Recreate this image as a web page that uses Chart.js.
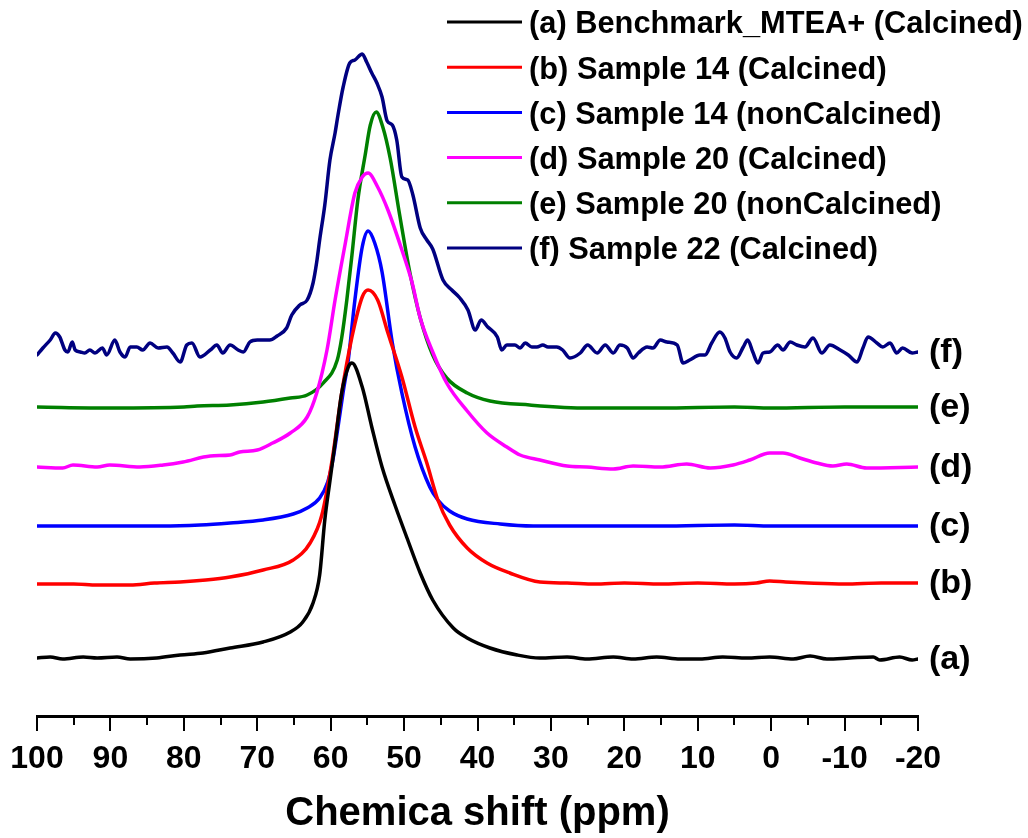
<!DOCTYPE html>
<html>
<head>
<meta charset="utf-8">
<script src="https://cdn.jsdelivr.net/npm/chart.js@4.4.1/dist/chart.umd.min.js"></script>
<style>
    html, body { margin: 0; padding: 0; background: #fff; }
    #wrap { width: 1028px; height: 838px; }
</style>
</head>
<body>
<div id="wrap"><canvas id="nmrChart" width="1028" height="838"></canvas></div>
<script>
// chemical shift (ppm) and offset intensity (a.u.) for each trace
const shiftA = [100, 98.2, 96.5, 93.7, 91.8, 89.1, 87.3, 83.7, 80.5, 77.4,
    73.7, 69.2, 65.5, 63.8, 62.4, 61.5, 60.8, 60.1, 59.4, 58.5,
    57.6, 57.1, 55.7, 54.4, 53.0, 51.2, 49.6, 47.8, 46.1, 43.3,
    41.4, 38.3, 34.6, 31.5, 27.8, 25.1, 21.5, 18.8, 15.6, 12.4,
    9.7, 6.6, 3.3, 0.2, -3.0, -5.3, -7.6, -10.7, -13.9, -14.8,
    -17.5, -19.2, -20];
const intA = [5.8, 5.9, 5.7, 5.9, 5.8, 5.9, 5.7, 5.8, 6.1, 6.3,
    6.8, 7.4, 8.4, 9.4, 11.3, 14.1, 19.6, 23.5, 27.3, 32.3,
    34.9, 35.3, 32.9, 28.9, 24.9, 21.0, 17.8, 14.3, 11.6, 8.8,
    7.8, 6.8, 6.1, 5.8, 5.9, 5.7, 5.9, 5.7, 5.9, 5.7,
    5.7, 5.9, 5.8, 5.9, 5.7, 6.0, 5.7, 5.8, 5.9, 5.6,
    5.9, 5.6, 5.7];

const shiftB = [100, 95, 91.8, 87.3, 84, 80.5, 77, 73.7, 69.2, 65.1,
    62.8, 61.2, 59.8, 58.5, 57.1, 55.7, 54.9, 53.6, 52.2, 50.3,
    48.5, 46.9, 45.4, 43.8, 41.4, 38.7, 35.6, 31.5, 27.8, 24,
    20, 15, 10, 5, 2, 0.2, -2, -5, -10, -15,
    -20];
const intB = [13.2, 13.2, 13.1, 13.1, 13.3, 13.4, 13.6, 13.9, 14.6, 15.6,
    17.3, 20.1, 25.6, 32.3, 37.9, 41.9, 42.6, 41.6, 38.3, 33.9,
    28.9, 25.3, 21.6, 19.1, 16.8, 15.3, 14.3, 13.4, 13.3, 13.2,
    13.3, 13.2, 13.3, 13.2, 13.3, 13.5, 13.4, 13.3, 13.2, 13.3,
    13.3];

const shiftC = [100, 90, 83, 77.8, 73.7, 69.2, 65.1, 63.2, 61.5, 60.4,
    59.7, 59.0, 58.3, 57.6, 56.7, 55.7, 54.9, 54.0, 53.0, 51.6,
    50.3, 48.5, 46.5, 45.4, 43.8, 41.4, 36.9, 32.4, 25, 15,
    5, 0, -10, -20];
const intC = [19.0, 19.0, 19.0, 19.1, 19.3, 19.6, 20.2, 20.8, 21.8, 23.4,
    25.6, 28.9, 32.4, 35.6, 41.6, 46.9, 48.5, 47.3, 44.4, 37.3,
    32.3, 26.9, 22.9, 21.6, 20.5, 19.7, 19.2, 19.0, 19.0, 19.0,
    19.1, 19.0, 19.0, 19.0];

const shiftD = [100, 96.5, 95.1, 91.8, 90.1, 86.0, 82.8, 80.1, 76.4, 73.7,
    72.4, 70.0, 67.9, 65.5, 63.2, 61.9, 60.5, 59.4, 58.0, 56.7,
    55.7, 54.9, 53.6, 52.2, 50.3, 48.9, 47.8, 46.1, 44.2, 41.4,
    38.7, 36.0, 34.2, 31.5, 27.8, 25.1, 21.5, 18.8, 15.1, 11.5,
    8.3, 5.2, 2.9, 0.2, -1.6, -3.9, -6.2, -8.4, -10.3, -13.0,
    -20];
const intD = [24.9, 24.8, 25.1, 24.9, 25.1, 24.9, 25.1, 25.4, 26.0, 26.1,
    26.4, 26.6, 27.3, 28.3, 29.9, 32.3, 36.6, 41.6, 47.3, 52.3,
    53.9, 54.3, 52.9, 50.6, 46.6, 43.3, 39.8, 36.4, 33.3, 30.5,
    28.3, 26.9, 26.1, 25.6, 25.0, 24.9, 24.7, 25.0, 24.9, 25.2,
    24.8, 25.1, 25.6, 26.3, 26.3, 25.8, 25.3, 25.0, 25.2, 24.8,
    24.9];

const shiftE = [100, 90, 80, 78.2, 73.7, 69.2, 65.5, 63.2, 61.0, 59.1,
    58.5, 57.8, 57.1, 56.3, 55.3, 54.6, 53.8, 52.9, 51.9, 50.6,
    49.2, 47.8, 46.1, 44.2, 41.4, 38.3, 32.9, 25, 15, 5,
    0, -10, -20];
const intE = [30.9, 30.8, 30.9, 31.0, 31.1, 31.4, 31.8, 32.1, 33.3, 35.6,
    37.8, 41.6, 46.1, 51.6, 56.1, 59.1, 60.4, 58.9, 55.8, 50.1,
    44.3, 39.8, 36.1, 33.8, 32.3, 31.5, 31.1, 30.8, 30.8, 30.9,
    30.8, 30.9, 30.9];

const shiftF = [100.0, 99.2, 98.2, 97.5, 96.9, 96.2, 95.8, 95.2, 94.8, 94.1,
    93.5, 92.8, 92.1, 91.1, 90.5, 89.4, 88.7, 88.0, 87.3, 86.4,
    85.6, 84.6, 83.5, 82.3, 81.5, 80.5, 79.6, 78.9, 77.8, 76.4,
    75.5, 74.7, 73.7, 72.6, 71.9, 71.0, 70.0, 69.2, 68.3, 67.3,
    66.0, 65.3, 64.2, 63.2, 62.4, 61.9, 61.5, 60.8, 60.1, 59.4,
    59.0, 58.3, 57.4, 56.7, 55.7, 55.1, 54.4, 53.7, 53.0, 52.3,
    51.6, 51.0, 50.3, 49.5, 48.8, 47.8, 46.9, 46.1, 44.7, 43.5,
    42.4, 41.3, 40.3, 39.5, 38.6, 37.3, 36.7, 36.0, 34.9, 34.2,
    33.5, 32.6, 31.9, 31.1, 30.4, 29.2, 28.4, 27.4, 26.0, 25.0,
    23.7, 22.6, 21.5, 20.6, 19.6, 18.8, 18.1, 16.9, 16.1, 15.1,
    14.2, 12.8, 12.0, 11.1, 9.7, 9.0, 8.1, 7.0, 6.3, 5.6,
    4.7, 3.8, 3.2, 2.5, 1.8, 1.1, 0.2, -0.9, -1.6, -2.6,
    -3.5, -4.6, -5.7, -6.9, -8.0, -9.4, -10.5, -11.7, -12.5, -13.2,
    -14.4, -15.2, -16.2, -17.1, -17.9, -19.2, -20.0];
const intF = [36.1, 36.8, 37.6, 38.3, 37.9, 36.6, 36.4, 37.4, 36.6, 36.4,
    36.3, 36.6, 36.3, 36.8, 36.1, 37.6, 36.4, 35.9, 36.9, 36.9,
    36.6, 37.3, 36.8, 36.9, 36.3, 35.4, 37.1, 37.3, 35.9, 36.6,
    37.1, 36.3, 37.1, 36.6, 36.4, 37.4, 37.6, 37.6, 37.6, 38.0,
    38.8, 40.1, 41.1, 41.6, 43.3, 45.4, 47.6, 51.1, 55.6, 58.3,
    60.1, 62.9, 65.3, 65.6, 66.2, 65.4, 64.3, 63.3, 61.9, 59.5,
    59.1, 57.6, 53.9, 53.6, 52.1, 48.8, 47.6, 46.7, 43.6, 42.6,
    41.8, 40.6, 38.6, 39.6, 38.9, 37.9, 36.6, 37.1, 37.1, 36.8,
    37.3, 36.9, 36.9, 37.1, 36.9, 36.9, 36.6, 35.8, 36.3, 37.1,
    36.3, 37.1, 36.3, 37.1, 36.8, 35.8, 36.3, 36.9, 36.8, 37.6,
    37.4, 37.1, 35.3, 35.6, 36.1, 36.1, 37.3, 38.4, 37.8, 36.4,
    35.8, 36.9, 37.6, 36.4, 35.3, 36.3, 36.4, 37.1, 36.6, 37.4,
    37.1, 36.9, 37.8, 36.3, 37.1, 36.6, 36.1, 35.4, 36.8, 37.9,
    37.3, 36.9, 37.3, 36.3, 36.8, 36.3, 36.4];

const seriesLabels = [
    '(a) Benchmark_MTEA+ (Calcined)',
    '(b) Sample 14 (Calcined)',
    '(c) Sample 14 (nonCalcined)',
    '(d) Sample 20 (Calcined)',
    '(e) Sample 20 (nonCalcined)',
    '(f) Sample 22 (Calcined)'
];
const tagLabels = ['(a)', '(b)', '(c)', '(d)', '(e)', '(f)'];
const seriesColors = ['#000000', '#FF0000', '#0000FF', '#FF00FF', '#008000', '#000080'];
const minorTickValues = [95, 85, 75, 65, 55, 45, 35, 25, 15, 5, -5, -15];

const FONT = "'Liberation Sans', Arial, Helvetica, sans-serif";

function pairs(xs, ys) {
    return xs.map((x, i) => ({ x: x, y: ys[i] }));
}

const allShifts = [shiftA, shiftB, shiftC, shiftD, shiftE, shiftF];
const allInts = [intA, intB, intC, intD, intE, intF];

const datasets = seriesLabels.map((label, i) => ({
    label: label,
    data: pairs(allShifts[i], allInts[i]),
    borderColor: seriesColors[i],
    backgroundColor: seriesColors[i],
    borderWidth: 3.5,
    pointRadius: 0,
    cubicInterpolationMode: 'monotone',
    borderJoinStyle: 'round',
    borderCapStyle: 'round',
    fill: false
}));

// short ticks at the 5 ppm marks
const minorTicks = {
    id: 'minorTicks',
    afterDraw(chart) {
        const xs = chart.scales.x;
        const ctx = chart.ctx;
        const y0 = chart.chartArea.bottom;
        ctx.save();
        ctx.strokeStyle = '#000';
        ctx.lineWidth = 2;
        minorTickValues.forEach(v => {
            const px = Math.round(xs.getPixelForValue(v));
            ctx.beginPath();
            ctx.moveTo(px, y0);
            ctx.lineTo(px, y0 + 9);
            ctx.stroke();
        });
        ctx.restore();
    }
};

// legend block at the top right
const legendBlock = {
    id: 'legendBlock',
    afterDraw(chart) {
        const ctx = chart.ctx;
        ctx.save();
        ctx.font = 'bold 30.8px ' + FONT;
        ctx.textBaseline = 'middle';
        ctx.fillStyle = '#000';
        chart.data.datasets.forEach((ds, i) => {
            const y = 22 + i * 45.2;
            ctx.strokeStyle = ds.borderColor;
            ctx.lineWidth = 3;
            ctx.beginPath();
            ctx.moveTo(447, y);
            ctx.lineTo(522, y);
            ctx.stroke();
            ctx.fillText(ds.label, 529, y + 3);
        });
        ctx.restore();
    }
};

// (a)...(f) tags at the right end of each trace
const traceTags = {
    id: 'traceTags',
    afterDraw(chart) {
        const ctx = chart.ctx;
        ctx.save();
        ctx.font = 'bold 34px ' + FONT;
        ctx.textBaseline = 'middle';
        ctx.fillStyle = '#000';
        chart.data.datasets.forEach((ds, i) => {
            const pts = chart.getDatasetMeta(i).data;
            const last = pts[pts.length - 1];
            ctx.fillText(tagLabels[i], chart.chartArea.right + 11, last.y + 1);
        });
        ctx.restore();
    }
};

new Chart(document.getElementById('nmrChart').getContext('2d'), {
    type: 'line',
    data: { datasets: datasets },
    options: {
        responsive: false,
        animation: false,
        layout: { padding: { top: 16, left: 37, right: 110, bottom: 0 } },
        plugins: {
            legend: { display: false },
            tooltip: { enabled: false }
        },
        scales: {
            x: {
                type: 'linear',
                reverse: true,
                min: -20,
                max: 100,
                ticks: {
                    stepSize: 10,
                    color: '#000',
                    padding: 9,
                    maxRotation: 0,
                    autoSkip: false,
                    font: { family: FONT, size: 32, weight: 'bold' },
                    callback: v => String(v)
                },
                grid: {
                    drawOnChartArea: false,
                    drawTicks: true,
                    tickLength: 15,
                    color: '#000',
                    lineWidth: 2
                },
                border: { display: true, color: '#000', width: 3 },
                title: {
                    display: true,
                    text: 'Chemica shift (ppm)',
                    color: '#000',
                    font: { family: FONT, size: 40, weight: 'bold' },
                    padding: { top: 12, bottom: 0 }
                },
                afterFit: function (scale) {
                    scale.height = 122;
                }
            },
            y: {
                display: false,
                min: 0,
                max: 70
            }
        }
    },
    plugins: [minorTicks, legendBlock, traceTags]
});
</script>
</body>
</html>
